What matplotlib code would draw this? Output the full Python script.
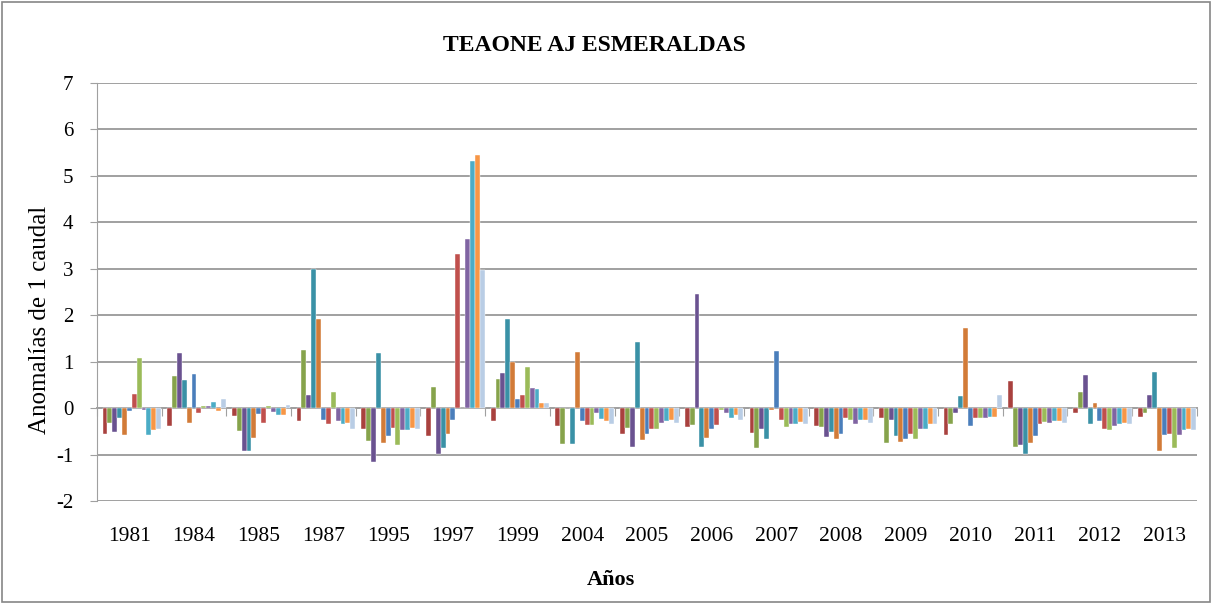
import numpy as np
import matplotlib
matplotlib.use('Agg')
import matplotlib.pyplot as plt

years = ['1981', '1984', '1985', '1987', '1995', '1997', '1999', '2004', '2005',
         '2006', '2007', '2008', '2009', '2010', '2011', '2012', '2013']

# one list per month, one value per year
ene = [-0.55, -0.39, -0.18, -0.27, -0.45, -0.60, -0.27, -0.39, -0.56, -0.40, -0.54, -0.39, -0.22, -0.58, 0.58, -0.10, -0.19]
feb = [-0.32, 0.70, -0.49, 1.25, -0.70, 0.46, 0.63, -0.77, -0.43, -0.36, -0.85, -0.41, -0.76, -0.35, -0.83, 0.34, -0.10]
mar = [-0.51, 1.18, -0.93, 0.28, -1.17, -0.99, 0.75, 0.0, -0.83, 2.46, -0.45, -0.63, -0.26, -0.10, -0.80, 0.71, 0.29]
abr = [-0.22, 0.61, -0.93, 3.00, 1.18, -0.86, 1.91, -0.77, 1.43, -0.83, -0.66, -0.51, -0.60, 0.26, -0.99, -0.35, 0.77]
may = [-0.58, -0.33, -0.65, 1.91, -0.76, -0.55, 0.99, 1.21, -0.69, -0.65, -0.04, -0.66, -0.72, 1.73, -0.76, 0.12, -0.92]
jun = [-0.07, 0.74, -0.12, -0.25, -0.60, -0.26, 0.19, -0.27, -0.56, -0.46, 1.23, -0.56, -0.66, -0.39, -0.60, -0.28, -0.57]
jul = [0.30, -0.11, -0.31, -0.34, -0.42, 3.32, 0.29, -0.36, -0.46, -0.36, -0.26, -0.22, -0.56, -0.22, -0.35, -0.45, -0.55]
ago = [1.08, 0.05, 0.04, 0.34, -0.80, 0.0, 0.89, -0.36, -0.46, -0.04, -0.41, -0.26, -0.66, -0.22, -0.29, -0.47, -0.86]
sep = [-0.04, 0.04, -0.09, -0.27, -0.47, 3.64, 0.44, -0.11, -0.31, -0.11, -0.35, -0.35, -0.45, -0.22, -0.32, -0.39, -0.57]
oct_ = [-0.58, 0.14, -0.14, -0.34, -0.47, 5.33, 0.41, -0.24, -0.27, -0.21, -0.35, -0.26, -0.45, -0.20, -0.28, -0.35, -0.47]
nov = [-0.47, -0.07, -0.14, -0.31, -0.42, 5.44, 0.12, -0.27, -0.25, -0.14, -0.29, -0.26, -0.35, -0.20, -0.28, -0.32, -0.45]
dic = [-0.45, 0.19, 0.07, -0.46, -0.45, 2.98, 0.12, -0.34, -0.31, -0.25, -0.35, -0.33, -0.35, 0.29, -0.32, -0.35, -0.47]

series = [ene, feb, mar, abr, may, jun, jul, ago, sep, oct_, nov, dic]
colors = ['#A9413E', '#86A34B', '#6A5290', '#3A91A6', '#D27B38', '#4A7EBB',
          '#C0504D', '#9BBB59', '#8064A2', '#4BACC6', '#F79646', '#B9CDE5']

plt.rcParams['font.family'] = ['Liberation Serif', 'DejaVu Serif']
plt.rcParams['axes.unicode_minus'] = False

fig = plt.figure(figsize=(12.14, 6.04), dpi=100)
ax = fig.add_axes([0.0799, 0.1705, 0.906, 0.692])

# 13 slots per year, the first one stays empty
n_slots = 13
w = 0.98 / n_slots
x = np.arange(len(years))
for k, vals in enumerate(series):
    ax.bar(x + 0.01 + (k + 1.5) * w, vals, width=w, color=colors[k],
           edgecolor='white', linewidth=0.3, zorder=3)

ax.set_xlim(0, len(years))
ax.set_ylim(-2, 7)
ax.set_yticks(range(-2, 8))
ax.yaxis.grid(True, color='#A0A0A0', linewidth=1.4, zorder=0)
ax.tick_params(axis='y', length=5, color='#A0A0A0', labelsize=15, pad=12)

for s in ['top', 'right']:
    ax.spines[s].set_visible(False)
ax.spines['left'].set_color('#A0A0A0')
ax.spines['bottom'].set_position(('data', 0))
ax.spines['bottom'].set_color('#A0A0A0')
ax.spines['bottom'].set_linewidth(1.4)
ax.set_xticks(np.arange(len(years) + 1))
ax.set_xticklabels([])
ax.tick_params(axis='x', length=6, color='#A0A0A0', direction='out')

sec = ax.secondary_xaxis(0)
sec.set_xticks(x + 0.5, labels=years)
sec.tick_params(length=0, labelsize=15.5, pad=19)
sec.spines['bottom'].set_visible(False)

ax.set_ylabel('Anomalías de 1 caudal', fontsize=18)
ax.yaxis.set_label_coords(-0.042, 0.433)
fig.text(0.503, 0.04, 'Años', ha='center', va='center', fontsize=16, fontweight='bold')
fig.text(0.490, 0.925, 'TEAONE AJ ESMERALDAS', ha='center', va='center', fontsize=17, fontweight='bold')

fig.patches.append(plt.Rectangle((0.002, 0.003), 0.995, 0.994, transform=fig.transFigure,
                                 fill=False, edgecolor='#868686', linewidth=1.2))

fig.savefig('out.png', dpi=100)
